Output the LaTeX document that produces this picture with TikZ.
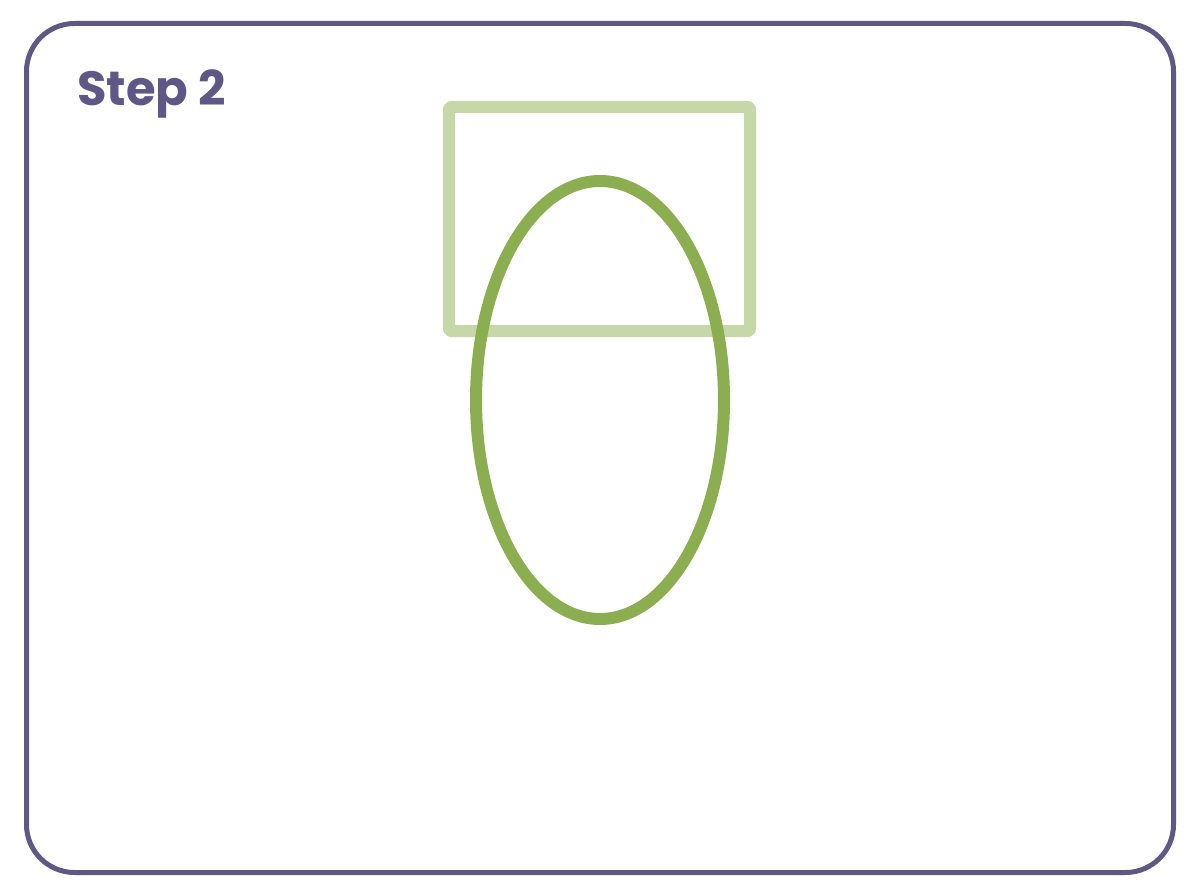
\documentclass[tikz,border=0pt]{standalone}
\usepackage{fontspec}
\newfontfamily\titlefont{Poppins}[UprightFont=* Bold]
\definecolor{framepurple}{HTML}{5F5887}
\definecolor{ovalgreen}{HTML}{8BAE50}
\definecolor{boxgreen}{HTML}{C6D8A8}
\tikzset{
  frame/.style={draw=framepurple, line width=5pt, rounded corners=48pt},
  lightbox/.style={draw=boxgreen, line width=12pt, rounded corners=2pt, line join=round},
  oval/.style={draw=ovalgreen, line width=12pt},
  title/.style={text=framepurple, font=\titlefont\fontsize{48}{52}\selectfont, anchor=base west, inner sep=0pt}
}
\begin{document}
\begin{tikzpicture}[x=1pt, y=-1pt]
\useasboundingbox (0,0) rectangle (1200,896);
\draw[frame] (26.5,23.5) rectangle (1173.5,872.5);
\node[title] (step) at (77,106) {Step 2};
\draw[lightbox] (449,107) rectangle (750,331);
\draw[oval] (600,400) ellipse [x radius=124, y radius=219];
\end{tikzpicture}
\end{document}
